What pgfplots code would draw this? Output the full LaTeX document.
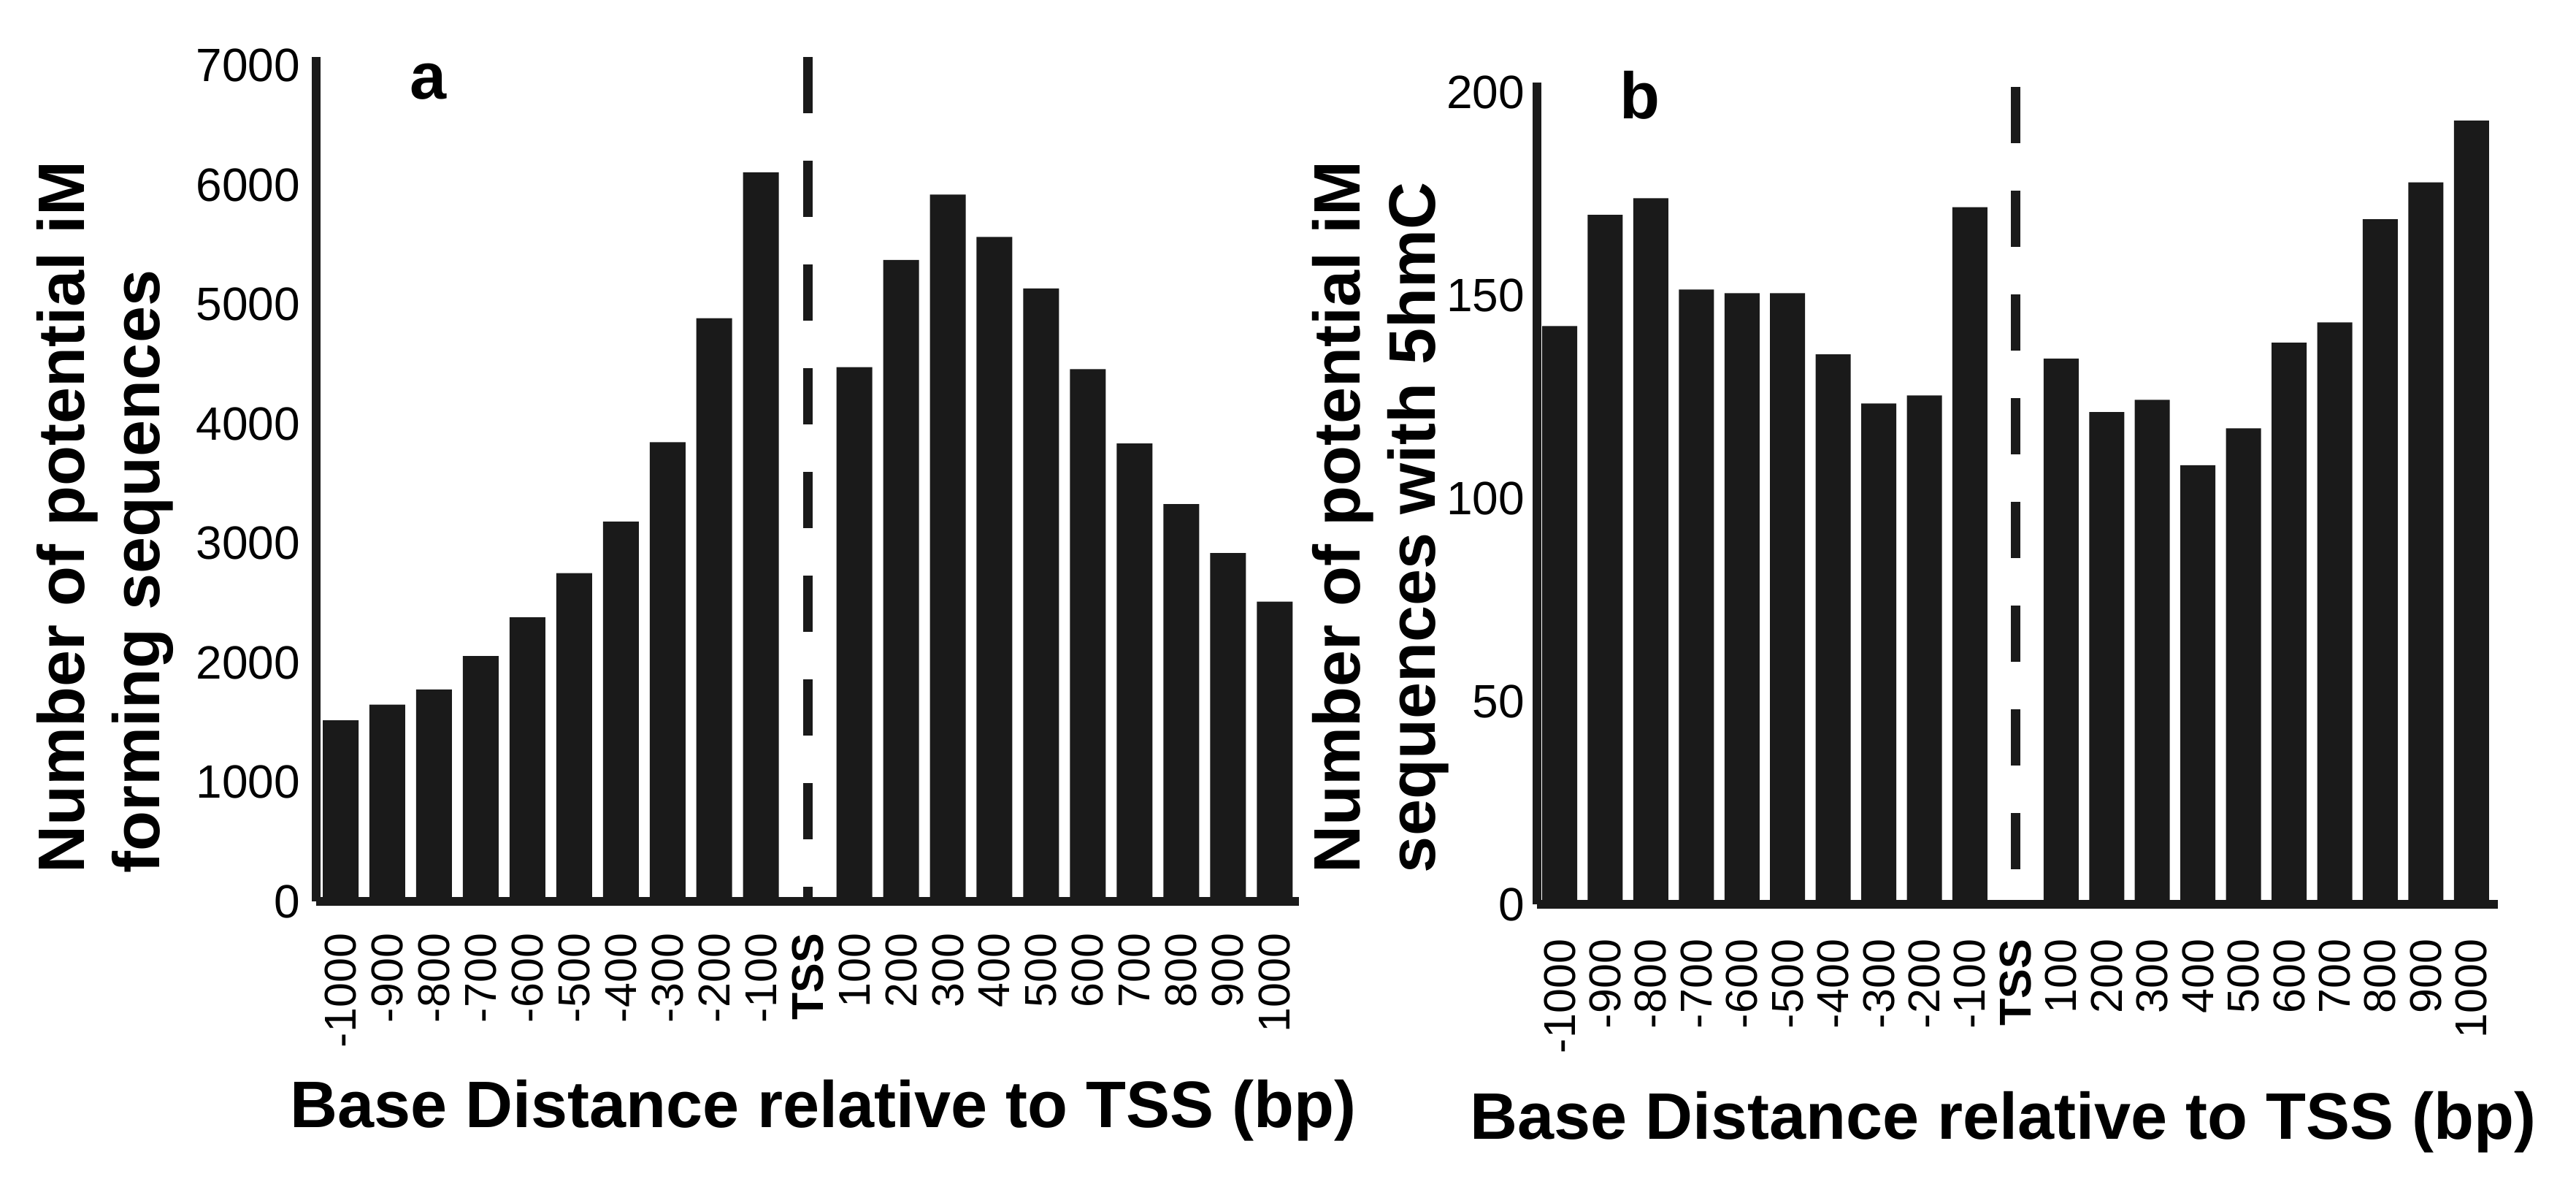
\documentclass[border=0pt]{standalone}
\usepackage{fontspec}
\setmainfont{Liberation Sans}
\usepackage{pgfplots}
\pgfplotsset{compat=1.18}
\usepackage{pgfplotstable}
\definecolor{barc}{HTML}{1A1A1A}

\pgfplotstableread{
x y
0 1516
1 1648
2 1775
3 2054
4 2378
5 2748
6 3180
7 3844
8 4883
9 6105
10 0
11 4473
12 5370
13 5918
14 5563
15 5132
16 4457
17 3834
18 3327
19 2916
20 2510
}\dataA

\pgfplotstableread{
x y
0 142.5
1 169.9
2 174.0
3 151.5
4 150.6
5 150.6
6 135.5
7 123.4
8 125.4
9 171.8
10 0
11 134.5
12 121.3
13 124.3
14 108.2
15 117.3
16 138.4
17 143.4
18 168.8
19 177.9
20 193.1
}\dataB

\pgfplotsset{
  common/.style={
    scale only axis,
    anchor=south west,
    axis x line*=bottom,
    axis y line*=left,
    axis line style={-, line width=2.4pt, draw=barc},
    xtick={0,...,20},
    xticklabels={-1000,-900,-800,-700,-600,-500,-400,-300,-200,-100,\textbf{TSS},100,200,300,400,500,600,700,800,900,1000},
    tick style={draw=none},
    major tick length=0pt,
    clip=false,
    xlabel={Base Distance relative to TSS (bp)},
    xlabel style={font=\fontsize{18}{18}\selectfont\bfseries, anchor=base},
  }
}

\begin{document}
\begin{tikzpicture}
\useasboundingbox (0,0) rectangle (705.6pt,324.8pt);

% Panel a
\begin{axis}[common,
  at={(86.6pt,78pt)},
  width=269.2pt, height=231.2pt,
  xmin=-0.524, xmax=20.52,
  ymin=0, ymax=7070,
  ytick={0,1000,2000,3000,4000,5000,6000,7000},
  yticklabels={0,1000,2000,3000,4000,5000,6000,7000},
  xticklabel style={font=\fontsize{12.2}{12.2}\selectfont, inner sep=0pt, yshift=-8.6pt, rotate=90, anchor=east},
  yticklabel style={font=\fontsize{12.8}{12.8}\selectfont, inner sep=0pt, xshift=-4.2pt, anchor=east},
  xlabel style={at={(axis description cs:0.516,-0.2675)}},
]
\addplot[ybar, bar width=9.8pt, fill=barc, draw=none] table[x=x,y=y] {\dataA};
\addplot[barc, line width=2.6pt, dash pattern=on 15.4pt off 13pt, mark=none] coordinates {(10,7070) (10,0)};
\end{axis}

% Panel b
\begin{axis}[common,
  at={(421pt,77.2pt)},
  width=263.2pt, height=225pt,
  xmin=-0.496, xmax=20.58,
  ymin=0, ymax=202.5,
  ytick={0,50,100,150,200},
  yticklabels={0,50,100,150,200},
  xticklabel style={font=\fontsize{12.2}{12.2}\selectfont, inner sep=0pt, yshift=-9.4pt, rotate=90, anchor=east},
  yticklabel style={font=\fontsize{12.8}{12.8}\selectfont, inner sep=0pt, xshift=-3.2pt, anchor=east},
  xlabel style={at={(axis description cs:0.485,-0.2857)}},
]
\addplot[ybar, bar width=9.6pt, fill=barc, draw=none] table[x=x,y=y] {\dataB};
\addplot[barc, line width=2.6pt, dash pattern=on 15.4pt off 13pt, mark=none] coordinates {(10,201.4) (10,0)};
\end{axis}

% y titles
\node[rotate=90, anchor=north west, align=left, inner sep=0pt,
      font=\fontsize{18}{20.6}\selectfont\bfseries] at (9.8pt,85.6pt)
  {Number of potential iM\\forming sequences};
\node[rotate=90, anchor=north west, align=left, inner sep=0pt,
      font=\fontsize{18}{20.6}\selectfont\bfseries] at (359.2pt,85.6pt)
  {Number of potential iM\\sequences with 5hmC};

% panel letters
\node[anchor=base west, inner sep=0pt, font=\fontsize{18}{18}\selectfont\bfseries] at (112pt,297.8pt) {a};
\node[anchor=base west, inner sep=0pt, font=\fontsize{18}{18}\selectfont\bfseries] at (443.4pt,292.4pt) {b};
\end{tikzpicture}
\end{document}
